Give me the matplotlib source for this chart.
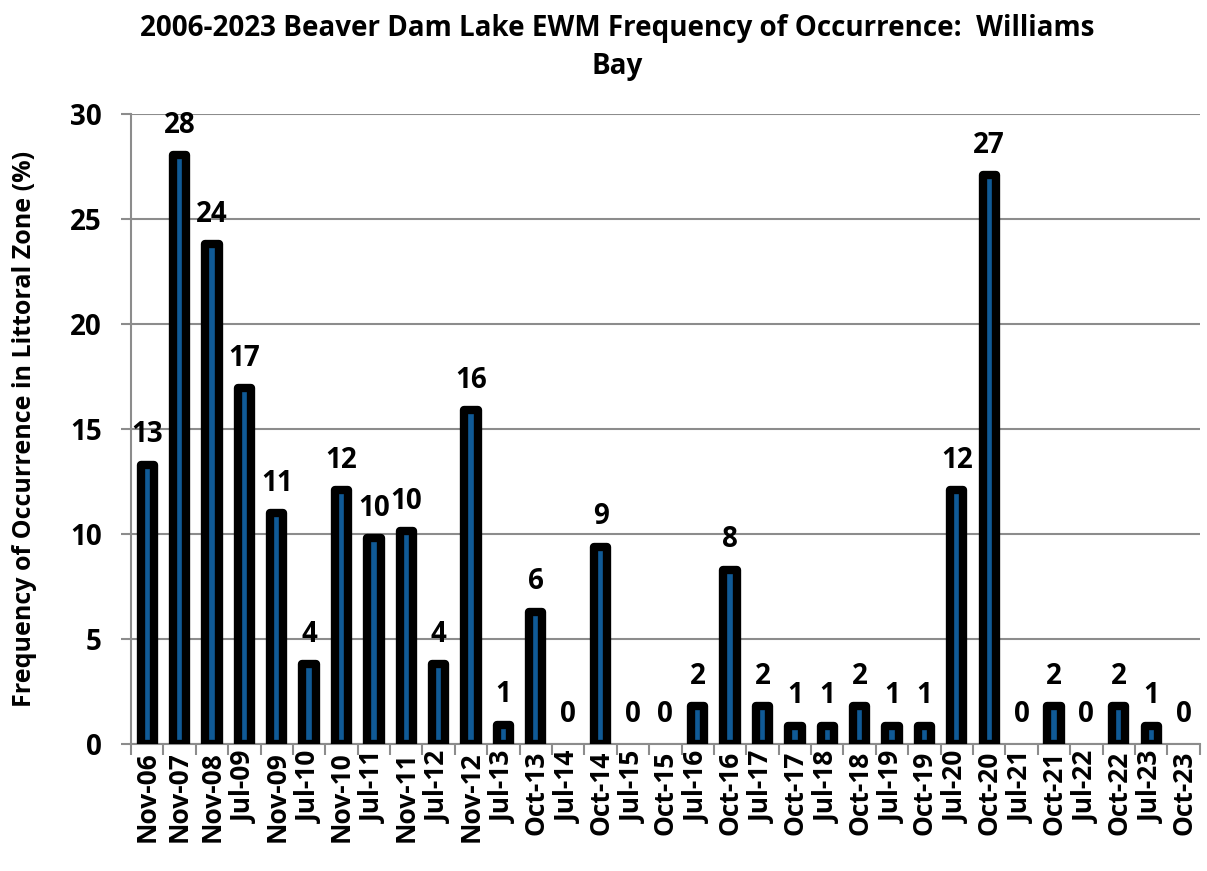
import matplotlib
matplotlib.use('Agg')
import matplotlib.pyplot as plt
import numpy as np

plt.rcParams['font.family'] = ['Open Sans', 'DejaVu Sans']

# survey dates and EWM frequency of occurrence (%)
dates = ['Nov-06', 'Nov-07', 'Nov-08', 'Jul-09', 'Nov-09', 'Jul-10', 'Nov-10',
         'Jul-11', 'Nov-11', 'Jul-12', 'Nov-12', 'Jul-13', 'Oct-13', 'Jul-14',
         'Oct-14', 'Jul-15', 'Oct-15', 'Jul-16', 'Oct-16', 'Jul-17', 'Oct-17',
         'Jul-18', 'Oct-18', 'Jul-19', 'Oct-19', 'Jul-20', 'Oct-20', 'Jul-21',
         'Oct-21', 'Jul-22', 'Oct-22', 'Jul-23', 'Oct-23']
freq = [13.3, 28.05, 23.8, 16.95, 11.0, 3.8, 12.1,
        9.8, 10.15, 3.8, 15.9, 0.92, 6.3, 0.0,
        9.4, 0.0, 0.0, 1.8, 8.3, 1.8, 0.87,
        0.87, 1.8, 0.87, 0.87, 12.1, 27.1, 0.0,
        1.8, 0.0, 1.8, 0.87, 0.0]
labels = ['13', '28', '24', '17', '11', '4', '12', '10', '10', '4', '16', '1', '6', '0',
          '9', '0', '0', '2', '8', '2', '1', '1', '2', '1', '1', '12', '27', '0',
          '2', '0', '2', '1', '0']

fig = plt.figure(figsize=(12.07, 8.71), dpi=100)
ax = fig.add_axes([0.1085, 0.1458, 0.8855, 0.7232])

x = np.arange(len(dates))
bars = ax.bar(x, freq, width=0.41, color='#105a96', edgecolor='black',
              linewidth=6, zorder=3)
for b, v in zip(bars, freq):
    b.set_joinstyle('round')
    if v == 0:
        b.set_visible(False)

for xi, v, s in zip(x, freq, labels):
    ax.annotate(s, (xi, v), xytext=(0, 11), textcoords='offset points',
                ha='center', va='bottom', fontsize=20, fontweight='bold')

ax.set_xlim(-0.5, len(dates) - 0.5)
ax.set_ylim(0, 30)
ax.set_yticks(range(0, 31, 5))
ax.yaxis.grid(True, color='#8c8c8c', linewidth=1.5, zorder=0)
ax.set_axisbelow(True)

ax.set_xticks(x)
ax.set_xticklabels(dates, rotation=90, fontsize=19, fontweight='bold')
ax.set_xticks(np.arange(-0.5, len(dates)), minor=True)
ax.tick_params(axis='x', which='major', length=0, pad=5)
ax.tick_params(axis='x', which='minor', length=8, width=1.5, color='#8c8c8c')
ax.tick_params(axis='y', length=7, width=1.5, color='#8c8c8c', labelsize=20, pad=14)
for t in ax.get_yticklabels():
    t.set_fontweight('bold')

for side in ['top', 'right']:
    ax.spines[side].set_visible(False)
for side in ['left', 'bottom']:
    ax.spines[side].set_color('#8c8c8c')
    ax.spines[side].set_linewidth(1.5)

ax.set_ylabel('Frequency of Occurrence in Littoral Zone (%)', fontsize=18,
              fontweight='bold', labelpad=24)
fig.suptitle('2006-2023 Beaver Dam Lake EWM Frequency of Occurrence:  Williams\nBay',
             fontsize=20, fontweight='bold', x=0.511, y=0.984, linespacing=1.4)

fig.savefig('out.png', dpi=100)
